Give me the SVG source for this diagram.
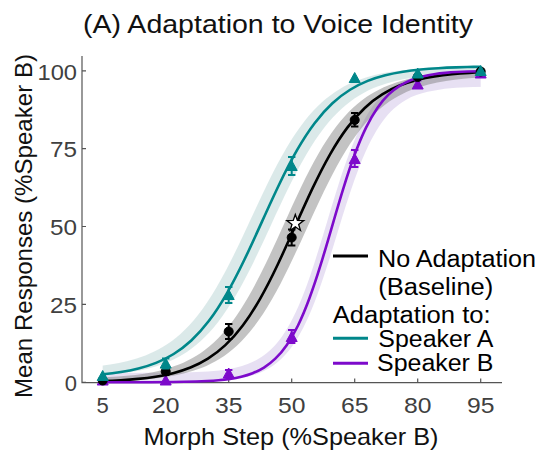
<svg xmlns="http://www.w3.org/2000/svg" xmlns:xlink="http://www.w3.org/1999/xlink" width="541" height="454" viewBox="0 0 541 454">
  <style>
    .axis { stroke: #555; stroke-width: 1.2; fill: none; }
    .tick { font-family: "Liberation Sans", Arial, sans-serif; font-size: 22px; fill: #404040; }
    .lbl { font-family: "Liberation Sans", Arial, sans-serif; font-size: 24px; fill: #111; }
    .leg { font-family: "Liberation Sans", Arial, sans-serif; font-size: 23px; fill: #000; }
    .fit { fill: none; vector-effect: non-scaling-stroke; }
    .teal { stroke: #00878a; fill: #00878a; }
    .purple { stroke: #7d0acb; fill: #7d0acb; }
    .black { stroke: #000; fill: #000; }
    .bar { stroke-width: 2; fill: none; }
  </style>
  <defs>
    <!-- standard logistic 1/(1+e^-t), t in [-12,12], as Hermite cubic segments -->
    <path id="sig" class="fit" d="M-12,0 L-10,0.00005 L-8,0.00034 L-7,0.00091 L-6,0.00247 C-5.8333,0.00288 -5.6667,0.00339 -5.5,0.00407 C-5.3333,0.00475 -5.1667,0.00558 -5,0.00669 C-4.8333,0.0078 -4.6667,0.00918 -4.5,0.01099 C-4.3333,0.0128 -4.1667,0.01504 -4,0.01799 C-3.8333,0.02094 -3.6667,0.02457 -3.5,0.02931 C-3.3333,0.03405 -3.1667,0.0399 -3,0.04743 C-2.8333,0.05496 -2.6667,0.06417 -2.5,0.07586 C-2.3333,0.08755 -2.1667,0.1017 -2,0.1192 C-1.8333,0.1367 -1.6667,0.15757 -1.5,0.18243 C-1.3333,0.20729 -1.1667,0.23617 -1,0.26894 C-0.8333,0.30171 -0.6667,0.33837 -0.5,0.37754 C-0.3333,0.41671 -0.1667,0.45833 0,0.5 C0.1667,0.54167 0.3333,0.58329 0.5,0.62246 C0.6667,0.66163 0.8333,0.69829 1,0.73106 C1.1667,0.76383 1.3333,0.79271 1.5,0.81757 C1.6667,0.84243 1.8333,0.8633 2,0.8808 C2.1667,0.8983 2.3333,0.91245 2.5,0.92414 C2.6667,0.93583 2.8333,0.94504 3,0.95257 C3.1667,0.9601 3.3333,0.96595 3.5,0.97069 C3.6667,0.97543 3.8333,0.97906 4,0.98201 C4.1667,0.98496 4.3333,0.9872 4.5,0.98901 C4.6667,0.99082 4.8333,0.9922 5,0.99331 C5.1667,0.99442 5.3333,0.99526 5.5,0.99593 C5.6667,0.99661 5.8333,0.99712 6,0.99753 L7,0.99909 L8,0.99966 L10,0.99995 L12,1"/>
    <!-- same curve closed downward, used to build confidence bands -->
    <path id="sigArea" d="M-12,0 L-10,0.00005 L-8,0.00034 L-7,0.00091 L-6,0.00247 C-5.8333,0.00288 -5.6667,0.00339 -5.5,0.00407 C-5.3333,0.00475 -5.1667,0.00558 -5,0.00669 C-4.8333,0.0078 -4.6667,0.00918 -4.5,0.01099 C-4.3333,0.0128 -4.1667,0.01504 -4,0.01799 C-3.8333,0.02094 -3.6667,0.02457 -3.5,0.02931 C-3.3333,0.03405 -3.1667,0.0399 -3,0.04743 C-2.8333,0.05496 -2.6667,0.06417 -2.5,0.07586 C-2.3333,0.08755 -2.1667,0.1017 -2,0.1192 C-1.8333,0.1367 -1.6667,0.15757 -1.5,0.18243 C-1.3333,0.20729 -1.1667,0.23617 -1,0.26894 C-0.8333,0.30171 -0.6667,0.33837 -0.5,0.37754 C-0.3333,0.41671 -0.1667,0.45833 0,0.5 C0.1667,0.54167 0.3333,0.58329 0.5,0.62246 C0.6667,0.66163 0.8333,0.69829 1,0.73106 C1.1667,0.76383 1.3333,0.79271 1.5,0.81757 C1.6667,0.84243 1.8333,0.8633 2,0.8808 C2.1667,0.8983 2.3333,0.91245 2.5,0.92414 C2.6667,0.93583 2.8333,0.94504 3,0.95257 C3.1667,0.9601 3.3333,0.96595 3.5,0.97069 C3.6667,0.97543 3.8333,0.97906 4,0.98201 C4.1667,0.98496 4.3333,0.9872 4.5,0.98901 C4.6667,0.99082 4.8333,0.9922 5,0.99331 C5.1667,0.99442 5.3333,0.99526 5.5,0.99593 C5.6667,0.99661 5.8333,0.99712 6,0.99753 L7,0.99909 L8,0.99966 L10,0.99995 L12,1 L12,-0.1 L-12,-0.1 Z"/>
    <path id="tri" d="M0,-5.5 L5.5,4.5 L-5.5,4.5 Z"/>
    <clipPath id="plotClip"><rect x="102.7" y="40" width="378" height="350"/></clipPath>
    <mask id="bandTeal" maskUnits="userSpaceOnUse" x="0" y="0" width="541" height="454">
      <use xlink:href="#sigArea" fill="#fff" transform="translate(261.88,377.63) scale(35.28,-311.5) translate(-0.3,0.025) scale(1,0.975)"/>
      <use xlink:href="#sigArea" fill="#000" transform="translate(261.88,377.63) scale(35.28,-311.5) translate(0.26,0) scale(1,0.98)"/>
    </mask>
    <mask id="bandBlack" maskUnits="userSpaceOnUse" x="0" y="0" width="541" height="454">
      <use xlink:href="#sigArea" fill="#fff" transform="translate(295.06,382.3) scale(34.86,-311.5) translate(-0.33,0.01) scale(1,0.99)"/>
      <use xlink:href="#sigArea" fill="#000" transform="translate(295.06,382.3) scale(34.86,-311.5) translate(0.33,0) scale(1,0.985)"/>
    </mask>
    <mask id="bandPurple" maskUnits="userSpaceOnUse" x="0" y="0" width="541" height="454">
      <use xlink:href="#sigArea" fill="#fff" transform="translate(332.02,382.3) scale(22.68,-311.5) translate(-0.22,0.03) scale(1,0.97)"/>
      <use xlink:href="#sigArea" fill="#000" transform="translate(332.02,382.3) scale(22.68,-311.5) translate(0.22,0) scale(1,0.95)"/>
    </mask>
  </defs>

  <rect width="541" height="454" fill="#fff"/>

  <!-- title -->
  <text class="lbl" x="83" y="32.5" style="font-size:25px" textLength="390" lengthAdjust="spacingAndGlyphs">(A) Adaptation to Voice Identity</text>

  <!-- axes -->
  <g id="axes">
    <path class="axis" d="M82,56 V382.6 H502"/>
    <path class="axis" d="M82,382.3 h4 M82,304.4 h4 M82,226.5 h4 M82,148.7 h4 M82,70.8 h4"/>
    <path class="axis" d="M102.7,382.6 v-4 M165.7,382.6 v-4 M228.7,382.6 v-4 M291.7,382.6 v-4 M354.7,382.6 v-4 M417.7,382.6 v-4 M480.7,382.6 v-4"/>
    <g class="tick" text-anchor="end">
      <text x="77" y="391">0</text>
      <text x="77" y="313.1" textLength="27" lengthAdjust="spacingAndGlyphs">25</text>
      <text x="77" y="235.2" textLength="27" lengthAdjust="spacingAndGlyphs">50</text>
      <text x="77" y="157.4" textLength="27" lengthAdjust="spacingAndGlyphs">75</text>
      <text x="77" y="79.5" textLength="39.5" lengthAdjust="spacingAndGlyphs">100</text>
    </g>
    <g class="tick" text-anchor="middle">
      <text x="102.7" y="412.7">5</text>
      <text x="165.7" y="412.7" textLength="27.5" lengthAdjust="spacingAndGlyphs">20</text>
      <text x="228.7" y="412.7" textLength="27.5" lengthAdjust="spacingAndGlyphs">35</text>
      <text x="291.7" y="412.7" textLength="27.5" lengthAdjust="spacingAndGlyphs">50</text>
      <text x="354.7" y="412.7" textLength="27.5" lengthAdjust="spacingAndGlyphs">65</text>
      <text x="417.7" y="412.7" textLength="27.5" lengthAdjust="spacingAndGlyphs">80</text>
      <text x="480.7" y="412.7" textLength="27.5" lengthAdjust="spacingAndGlyphs">95</text>
    </g>
    <text class="lbl" x="143.5" y="445" textLength="295" lengthAdjust="spacingAndGlyphs">Morph Step (%Speaker B)</text>
    <text class="lbl" transform="translate(32,398) rotate(-90)" x="0" y="0" textLength="344" lengthAdjust="spacingAndGlyphs">Mean Responses (%Speaker B)</text>
  </g>

  <!-- confidence bands -->
  <g id="bands">
    <rect x="102.7" y="50" width="378" height="333" fill="#9070c8" fill-opacity="0.22" mask="url(#bandPurple)"/>
    <rect x="102.7" y="50" width="378" height="333" fill="#707070" fill-opacity="0.42" mask="url(#bandBlack)"/>
    <rect x="102.7" y="50" width="378" height="333" fill="#6fa8a8" fill-opacity="0.25" mask="url(#bandTeal)"/>
  </g>

  <!-- fitted psychometric curves -->
  <g id="connectors" clip-path="url(#plotClip)" stroke-width="2.6">
    <use xlink:href="#sig" class="black" style="fill:none" transform="translate(295.06,382.3) scale(34.86,-311.5)"/>
    <use xlink:href="#sig" class="purple" style="fill:none" transform="translate(332.02,382.3) scale(22.68,-311.5)"/>
    <use xlink:href="#sig" class="teal" style="fill:none" transform="translate(261.88,377.63) scale(35.28,-311.5)"/>
  </g>

  <!-- Speaker B adaptation data -->
  <g id="speaker-b-points">
    <path class="purple bar" d="M228.7,370 V377 M225,370 h7.4 M225,377 h7.4 M291.7,330 V343 M288,330 h7.4 M288,343 h7.4 M354.7,150 V167 M351,150 h7.4 M351,167 h7.4 M417.7,80.5 V88 M414,80.5 h7.4 M414,88 h7.4"/>
    <g class="purple">
      <use xlink:href="#tri" x="102.7" y="380.5"/>
      <use xlink:href="#tri" x="165.7" y="380.5"/>
      <use xlink:href="#tri" x="228.7" y="373.5"/>
      <use xlink:href="#tri" x="291.7" y="337"/>
      <use xlink:href="#tri" x="354.7" y="159"/>
      <use xlink:href="#tri" x="417.7" y="84.5"/>
      <use xlink:href="#tri" x="480.7" y="73.5"/>
    </g>
  </g>

  <!-- baseline data -->
  <g id="baseline-points">
    <path class="black bar" d="M165.7,368 V375 M162,368 h7.4 M162,375 h7.4 M228.7,324 V339 M225,324 h7.4 M225,339 h7.4 M291.7,229.5 V245.5 M288,229.5 h7.4 M288,245.5 h7.4 M354.7,113 V126.5 M351,113 h7.4 M351,126.5 h7.4"/>
    <g class="black">
      <circle cx="102.7" cy="380.5" r="4.5"/>
      <circle cx="165.7" cy="371.5" r="4.5"/>
      <circle cx="228.7" cy="331.5" r="4.5"/>
      <circle cx="291.7" cy="237.5" r="4.5"/>
      <circle cx="354.7" cy="120" r="4.5"/>
      <circle cx="417.7" cy="77" r="4.5"/>
      <circle cx="480.7" cy="71.5" r="4.5"/>
    </g>
    <path id="star" transform="translate(295.3,223.3) scale(1.1)" fill="#fff" stroke="#000" stroke-width="1.2" d="M0,-8 L1.88,-2.59 L7.61,-2.47 L3.04,0.99 L4.7,6.47 L0,3.2 L-4.7,6.47 L-3.04,0.99 L-7.61,-2.47 L-1.88,-2.59 Z"/>
  </g>

  <!-- Speaker A adaptation data -->
  <g id="speaker-a-points">
    <path class="teal bar" d="M102.7,373 V379 M165.7,358.5 V368.5 M162,358.5 h7.4 M162,368.5 h7.4 M228.7,287 V303 M225,287 h7.4 M225,303 h7.4 M291.7,157 V175 M288,157 h7.4 M288,175 h7.4 M354.7,75 V81"/>
    <g class="teal">
      <use xlink:href="#tri" x="102.7" y="376"/>
      <use xlink:href="#tri" x="165.7" y="363.6"/>
      <use xlink:href="#tri" x="228.7" y="295"/>
      <use xlink:href="#tri" x="291.7" y="166"/>
      <use xlink:href="#tri" x="354.7" y="78"/>
      <use xlink:href="#tri" x="417.7" y="73.5"/>
      <use xlink:href="#tri" x="480.7" y="71"/>
    </g>
  </g>

  <!-- legend -->
  <g id="legend">
    <path d="M333,256 H368" stroke="#000" stroke-width="3"/>
    <text class="leg" x="378" y="266.7" textLength="158" lengthAdjust="spacingAndGlyphs">No Adaptation</text>
    <text class="leg" x="378.3" y="295" textLength="115" lengthAdjust="spacingAndGlyphs">(Baseline)</text>
    <text class="leg" x="332.7" y="323.3" textLength="158" lengthAdjust="spacingAndGlyphs">Adaptation to:</text>
    <path d="M333,338.3 H368" stroke="#00878a" stroke-width="3"/>
    <text class="leg" x="378.3" y="347" textLength="115" lengthAdjust="spacingAndGlyphs">Speaker A</text>
    <path d="M333,363.3 H368" stroke="#7d0acb" stroke-width="3"/>
    <text class="leg" x="377" y="371" textLength="116.5" lengthAdjust="spacingAndGlyphs">Speaker B</text>
  </g>
</svg>
